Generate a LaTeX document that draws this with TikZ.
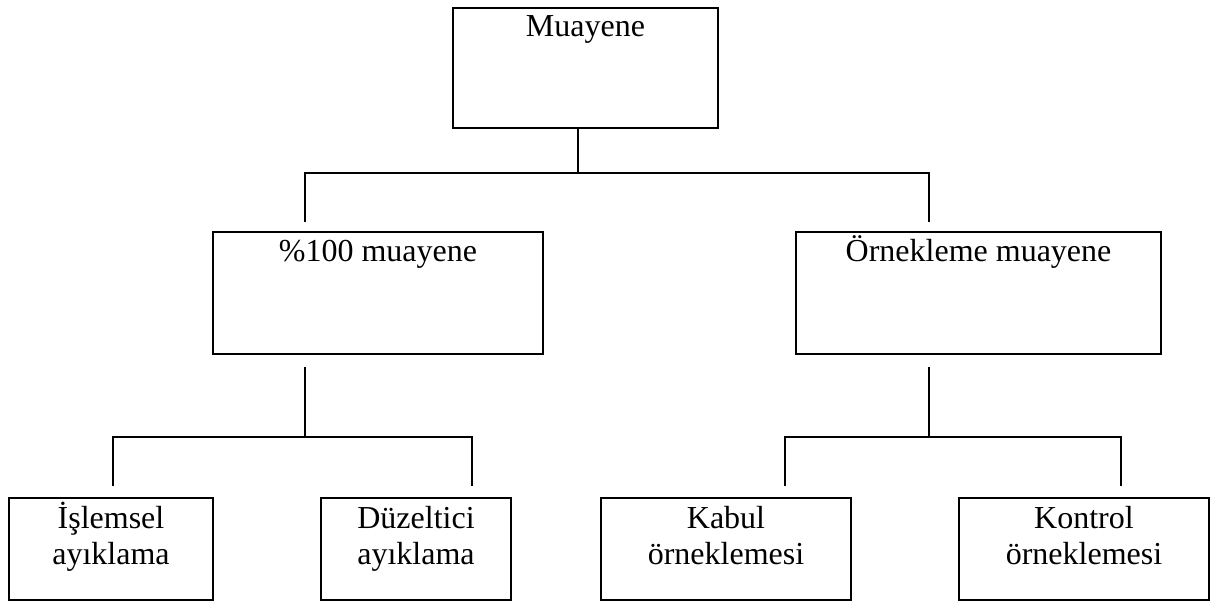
\documentclass[tikz,border=0pt]{standalone}
\usepackage{fontspec}
\setmainfont{Liberation Serif}
\newcommand\twoline[2]{\begin{tabular}[t]{@{}c@{}}#1\\#2\end{tabular}}
\tikzset{
  box/.style={draw, line width=2pt, inner sep=0pt, anchor=north west,
    font=\fontsize{32}{36}\selectfont},
  toplevel/.style={text height=28pt, text depth=92pt},
  midlevel/.style={text height=29pt, text depth=93pt},
  lowlevel/.style={text height=30pt, text depth=72pt},
  conn/.style={line width=1.4pt}
}
\begin{document}
\begin{tikzpicture}[x=1pt,y=-1pt]
\useasboundingbox (0,0) rectangle (1210,600);
% boxes
\node[box, toplevel, minimum width=265pt] (m0) at (452,7) {Muayene};
\node[box, midlevel, minimum width=330pt] (m1) at (212,231) {\%100 muayene};
\node[box, midlevel, minimum width=365pt] (m2) at (795,231) {Örnekleme muayene};
\node[box, lowlevel, minimum width=204pt] (b1) at (8,497) {\twoline{İşlemsel}{ayıklama}};
\node[box, lowlevel, minimum width=190pt] (b2) at (320,497) {\twoline{Düzeltici}{ayıklama}};
\node[box, lowlevel, minimum width=250pt] (b3) at (600,497) {\twoline{Kabul}{örneklemesi}};
\node[box, lowlevel, minimum width=250pt] (b4) at (958,497) {\twoline{Kontrol}{örneklemesi}};
% junction coordinates
\coordinate (j0) at (578,173);
\coordinate (jl) at (305,173);
\coordinate (jr) at (929,173);
\coordinate (kl) at (305,437);
\coordinate (kl1) at (113,437);
\coordinate (kl2) at (472,437);
\coordinate (kr) at (929,437);
\coordinate (kr1) at (785,437);
\coordinate (kr2) at (1121,437);
% connectors
\draw[conn] (m0.south -| j0) -- (j0);
\draw[conn] ([yshift=9pt]m1.north -| jl) -- (jl) -- (jr) -- ([yshift=9pt]m2.north -| jr);
\draw[conn] ([yshift=-12pt]m1.south -| kl) -- (kl);
\draw[conn] ([yshift=11pt]b1.north -| kl1) -- (kl1) -- (kl2) -- ([yshift=11pt]b2.north -| kl2);
\draw[conn] ([yshift=-12pt]m2.south -| kr) -- (kr);
\draw[conn] ([yshift=11pt]b3.north -| kr1) -- (kr1) -- (kr2) -- ([yshift=11pt]b4.north -| kr2);
\end{tikzpicture}
\end{document}
